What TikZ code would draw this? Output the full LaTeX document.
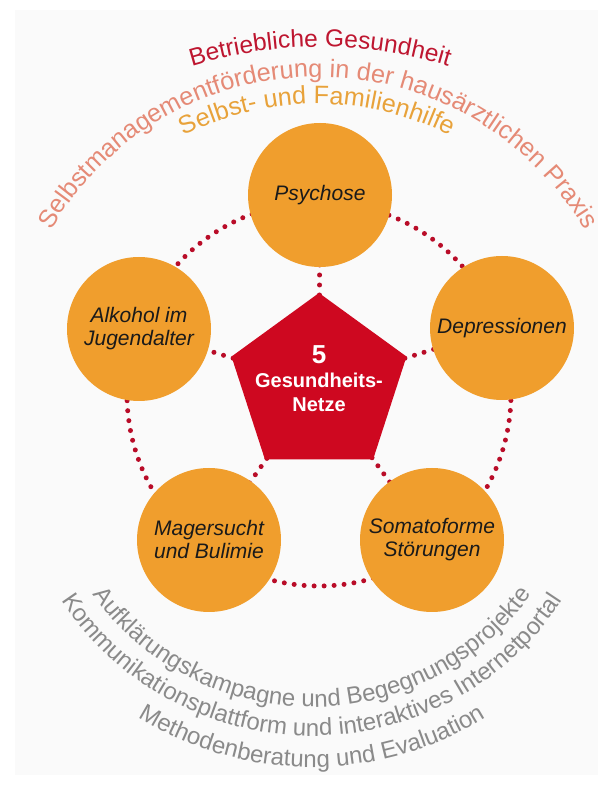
\documentclass[tikz,border=0pt]{standalone}
\usepackage{fontspec}
\setmainfont{Liberation Sans}
\usetikzlibrary{shapes.geometric,decorations.text}

\definecolor{netorange}{RGB}{240,158,45}
\definecolor{hubred}{RGB}{206,8,32}
\definecolor{dotred}{RGB}{185,12,40}
\definecolor{arcred}{RGB}{190,22,48}
\definecolor{arcsalmon}{RGB}{229,138,118}
\definecolor{arcorange}{RGB}{232,162,58}
\definecolor{arcgrey}{RGB}{138,138,138}
\definecolor{paper}{RGB}{250,250,250}
\definecolor{inktext}{RGB}{26,26,26}

\pgfdeclarelayer{paperlayer}
\pgfdeclarelayer{links}
\pgfsetlayers{paperlayer,links,main}

\tikzset{
  netcircle/.style={circle, fill=netorange, minimum size=144pt, inner sep=0pt,
    align=center, text=inktext,
    font=\itshape\fontsize{21}{23}\selectfont},
  hubshape/.style={regular polygon, regular polygon sides=5, minimum size=184pt,
    inner sep=0pt, fill=hubred},
  hubtext/.style={align=center, text=white, font=\bfseries\fontsize{20}{24}\selectfont},
  dotline/.style={draw=dotred, line width=5pt, line cap=round, dash pattern=on 0pt off 10pt},
  arctext/.style={decorate, decoration={text along path, text align=center, text color=#1}},
}

\begin{document}
\begin{tikzpicture}[x=1pt, y=1pt]
\useasboundingbox (0,0) rectangle (613,788);

% paper sheet
\begin{pgfonlayer}{paperlayer}
  \fill[white] (0,0) rectangle (613,788);
  \fill[paper] (15,13) rectangle (598,778);
\end{pgfonlayer}

% central hub and the five networks
\node[hubshape] (hub) at (319,403) {};
\node[hubtext] (hublabel) at (319,409)
  {{\fontsize{26}{24}\selectfont 5}\\Gesundheits-\\Netze};

\node[netcircle] (psy) at (320,593) {Psychose};
\node[netcircle] (dep) at (502,460) {Depressionen};
\node[netcircle] (alk) at (139,459) {Alkohol im\\Jugendalter};
\node[netcircle] (mag) at (209,248) {Magersucht\\und Bulimie};
\node[netcircle] (som) at (432,248) {Somatoforme\\Störungen};

% dotted links: spokes from the hub and the ring through the networks
\begin{pgfonlayer}{links}
  \coordinate (ringc) at (319,394);
  \foreach \n in {psy,dep,alk,mag,som}
    \draw[dotline] (hub.center) -- (\n.center);
  \draw[dotline] (ringc) circle[radius=192];
\end{pgfonlayer}

% upper arcs
\path[arctext=arcred, decoration={text={|\fontsize{24.5}{24.5}\selectfont|Betriebliche Gesundheit}}]
  (320,303) ++(125:438) arc[start angle=125, end angle=55, radius=438];
\path[arctext=arcsalmon, decoration={text={|\fontsize{25.3}{25.3}\selectfont|Selbstmanagementförderung in der hausärztlichen Praxis}}]
  (318,402) ++(178:309) arc[start angle=178, end angle=2, radius=309];
\path[arctext=arcorange, decoration={text={|\fontsize{25.2}{25.2}\selectfont|Selbst- und Familienhilfe}}]
  (317,389.5) ++(150:294.5) arc[start angle=150, end angle=30, radius=294.5];

% lower arcs
\path[arctext=arcgrey, decoration={text={|\fontsize{24}{24}\selectfont|Aufklärungskampagne und Begegnungsprojekte}}]
  (312,351) ++(180:270) arc[start angle=180, end angle=360, radius=270];
\path[arctext=arcgrey, decoration={text={|\fontsize{24}{24}\selectfont|Kommunikationsplattform und interaktives Internetportal}}]
  (312,351) ++(175:299) arc[start angle=175, end angle=365, radius=299];
\path[arctext=arcgrey, decoration={text={|\fontsize{24}{24}\selectfont|Methodenberatung und Evaluation}}]
  (312,351) ++(200:330) arc[start angle=200, end angle=340, radius=330];
\end{tikzpicture}
\end{document}
